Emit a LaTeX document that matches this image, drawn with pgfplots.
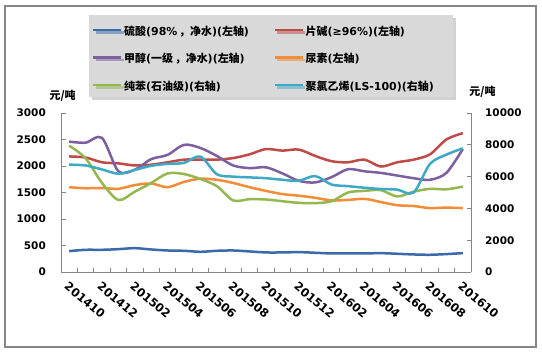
\documentclass[border=0pt]{standalone}
\usepackage{fontspec}
\setmainfont{DejaVu Sans}
\newfontfamily\cjk{Noto Sans CJK SC}
\usepackage{pgfplots}
\pgfplotsset{compat=1.18}
\usepackage{pgfplotstable}
\usetikzlibrary{shadows}

\definecolor{cS}{HTML}{3A6AA8}
\definecolor{cC}{HTML}{BE4B48}
\definecolor{cM}{HTML}{7D5FA0}
\definecolor{cU}{HTML}{F28C36}
\definecolor{cB}{HTML}{94B84F}
\definecolor{cP}{HTML}{3FA8C4}
\definecolor{axgray}{HTML}{868686}
\definecolor{leggray}{HTML}{D9D9D9}

\newcommand{\zh}[1]{{\cjk #1}}

\pgfplotstableread{
i s c m u b p
0  394  2180  2460  1600  7950  6750
1  419  2160  2440  1580  7150  6700
2  419  2070  2530  1585  5600  6450
3  431  2050  1900  1570  4530  6180
4  450  2010  1930  1640  5050  6420
5  425  2025  2130  1670  5600  6680
6  406  2070  2210  1600  6200  6800
7  400  2120  2400  1700  6160  6860
8  381  2120  2340  1760  5850  7260
9  400  2120  2190  1740  5400  6150
10 406  2150  2010  1680  4500  6000
11 388  2220  1960  1600  4580  5950
12 369  2320  1975  1530  4560  5900
13 369  2290  1860  1470  4450  5800
14 375  2310  1720  1440  4350  5740
15 363  2190  1690  1400  4330  6030
16 350  2090  1790  1350  4450  5500
17 350  2070  1940  1360  5000  5400
18 350  2120  1900  1380  5100  5300
19 356  1990  1870  1320  5150  5220
20 344  2070  1820  1260  4750  5180
21 331  2120  1770  1245  5050  5000
22 325  2220  1740  1205  5230  6800
23 338  2500  1870  1215  5200  7380
24 356  2620  2320  1205  5370  7780
}\data

\pgfplotsset{
  common/.style={
    scale only axis, width=410bp, height=159bp,
    xmin=-0.5, xmax=24.5,
    clip=false,
    axis line style={draw=axgray, line width=0.8bp},
    tick style={draw=axgray, line width=0.8bp},
    tick align=inside,
    major tick length=4.5bp,
    /pgf/number format/assume math mode=true,
    /pgf/number format/1000 sep={},
    scaled y ticks=false,
    ticklabel style={font=\bfseries\fontsize{10.5}{12}\selectfont},
  },
}

\begin{document}
\begin{tikzpicture}
\fill[white] (-61bp,-82bp) rectangle (481bp,272bp);
\draw[axgray, line width=1.2bp] (-56bp,-75bp) rectangle (475bp,266bp);

\begin{axis}[common,
  ymin=0, ymax=3000,
  axis y line*=left, axis x line*=bottom,
  ytick={0,500,...,3000},
  yticklabel style={anchor=east, inner sep=0pt, xshift=-15bp},
  xtick={-0.5,0.5,...,24.5}, xticklabels={},
  extra x ticks={0,2,...,24},
  extra x tick labels={201410,201412,201502,201504,201506,201508,201510,201512,201602,201604,201606,201608,201610},
  extra x tick style={major tick length=0pt, xticklabel style={rotate=-40, anchor=north west, inner sep=0pt, font=\bfseries\fontsize{11.6}{13}\selectfont}},
  xticklabel shift=9bp,
  legend columns=2,
  legend cell align=left,
  legend image code/.code={\draw[#1, line width=2.5bp] (0bp,-1.5bp) -- (28bp,-1.5bp);},
  legend style={
    at={(0.0683,1.6164)}, anchor=north west,
    fill=leggray, draw=none,
    drop shadow={shadow xshift=2.5bp, shadow yshift=-2.5bp, fill=gray!70},
    font=\bfseries\fontsize{11}{13}\selectfont,
    inner xsep=3bp, inner ysep=2.5bp,
    row sep=5.5bp,
    nodes={inner sep=1.5bp, text height=16bp, text depth=3bp},
  },
]
\addplot[cS, line width=2.5bp, smooth] table[x=i, y=s] {\data};
\addlegendentry{\makebox[148bp][l]{\zh{硫酸}(98\%\,\zh{，净水})(\zh{左轴})}}
\addplot[cC, line width=2.5bp, smooth] table[x=i, y=c] {\data};
\addlegendentry{\makebox[143bp][l]{\zh{片碱}(≥96\%)(\zh{左轴})}}
\addplot[cM, line width=2.5bp, smooth] table[x=i, y=m] {\data};
\addlegendentry{\makebox[148bp][l]{\zh{甲醇}(\zh{一级}\,\zh{，净水})(\zh{左轴})}}
\addplot[cU, line width=2.5bp, smooth] table[x=i, y=u] {\data};
\addlegendentry{\makebox[143bp][l]{\zh{尿素}(\zh{左轴})}}
\addlegendimage{cB, line width=2.5bp}
\addlegendentry{\makebox[148bp][l]{\zh{纯苯}(\zh{石油级})(\zh{右轴})}}
\addlegendimage{cP, line width=2.5bp}
\addlegendentry{\makebox[143bp][l]{\zh{聚氯乙烯}(LS-100)(\zh{右轴})}}
\node[font=\cjk\bfseries\fontsize{11}{13}\selectfont] at (rel axis cs:0.004,1.107) {元/吨};
\end{axis}

\begin{axis}[common,
  ymin=0, ymax=10000,
  axis y line*=right, axis x line=none,
  ytick={0,2000,...,10000},
  yticklabel style={anchor=west, inner sep=0pt, xshift=14bp},
]
\addplot[cB, line width=2.5bp, smooth] table[x=i, y=b] {\data};
\addplot[cP, line width=2.5bp, smooth] table[x=i, y=p] {\data};
\node[font=\cjk\bfseries\fontsize{11}{13}\selectfont] at (rel axis cs:1.028,1.132) {元/吨};
\end{axis}
\pgfresetboundingbox
\useasboundingbox (-61bp,-82bp) rectangle (481bp,272bp);
\end{tikzpicture}
\end{document}
